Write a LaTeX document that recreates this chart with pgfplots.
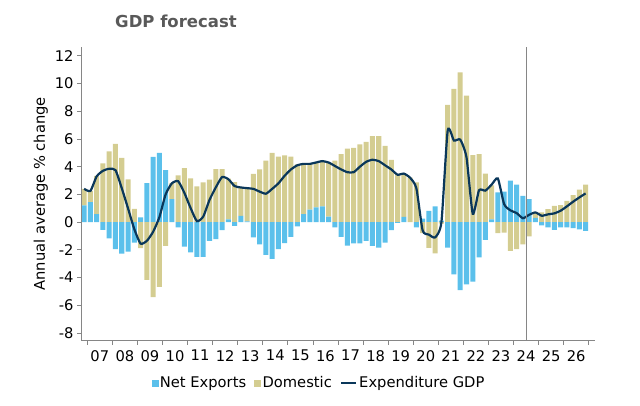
\documentclass[border=0pt]{standalone}
\usepackage{pgfplots}
\pgfplotsset{compat=1.18}
\usepackage{pgfplotstable}
\usepackage{fontspec}
\setmainfont{DejaVu Sans}
\definecolor{neblue}{RGB}{91,192,235}
\definecolor{domkhaki}{RGB}{212,205,145}
\definecolor{gdpline}{RGB}{10,55,90}
\definecolor{axgray}{RGB}{134,134,134}
\definecolor{titlegray}{RGB}{89,89,89}
\pgfplotstableread{
x nep dop nen don gdp
2006.875 1.2 1.2 0 0 2.4
2007.125 1.45 0.8 0 0 2.25
2007.375 0.58 2.75 0 0 3.3
2007.625 0 4.24 -0.55 0 3.7
2007.875 0 5.1 -1.18 0 3.85
2008.125 0 5.64 -1.95 0 3.75
2008.375 0 4.64 -2.27 0 2.45
2008.625 0 3.08 -2.12 0 1.0
2008.875 0 0.95 -1.47 0 -0.5
2009.125 0.34 0 0 -1.88 -1.55
2009.375 2.82 0 0 -4.17 -1.35
2009.625 4.7 0 0 -5.4 -0.7
2009.875 5.0 0 0 -4.67 0.35
2010.125 3.75 0 0 -1.72 2.0
2010.375 1.66 1.15 0 0 2.8
2010.625 0 3.37 -0.38 0 2.95
2010.875 0 3.9 -1.76 0 2.1
2011.125 0 3.16 -2.19 0 1.0
2011.375 0 2.58 -2.5 0 0.07
2011.625 0 2.87 -2.5 0 0.4
2011.875 0 3.06 -1.35 0 1.6
2012.125 0 3.83 -1.23 0 2.5
2012.375 0 3.83 -0.58 0 3.25
2012.625 0.2 2.93 0 0 3.1
2012.875 0 2.88 -0.27 0 2.6
2013.125 0.45 2.0 0 0 2.5
2013.375 0.05 2.4 0 0 2.45
2013.625 0 3.48 -1.1 0 2.4
2013.875 0 3.8 -1.6 0 2.2
2014.125 0 4.43 -2.36 0 2.05
2014.375 0 5.0 -2.65 0 2.4
2014.625 0 4.72 -1.95 0 2.8
2014.875 0 4.82 -1.52 0 3.35
2015.125 0 4.72 -1.06 0 3.8
2015.375 0 4.16 -0.3 0 4.1
2015.625 0.58 3.62 0 0 4.2
2015.875 0.9 3.3 0 0 4.2
2016.125 1.06 3.24 0 0 4.3
2016.375 1.13 3.3 0 0 4.4
2016.625 0.4 3.87 0 0 4.3
2016.875 0 4.43 -0.38 0 4.05
2017.125 0 4.9 -1.06 0 3.8
2017.375 0 5.3 -1.7 0 3.6
2017.625 0 5.35 -1.54 0 3.6
2017.875 0 5.6 -1.54 0 4.0
2018.125 0 5.78 -1.35 0 4.35
2018.375 0 6.2 -1.71 0 4.5
2018.625 0 6.2 -1.83 0 4.4
2018.875 0 5.5 -1.47 0 4.1
2019.125 0 4.48 -0.58 0 3.8
2019.375 0 3.47 -0.05 0 3.42
2019.625 0.38 3.1 0 0 3.5
2019.875 0 3.2 0 0 3.2
2020.125 0 2.87 -0.38 0 2.45
2020.375 0.25 0 0 -0.8 -0.6
2020.625 0.82 0 0 -1.85 -0.9
2020.875 1.13 0 0 -2.26 -1.1
2021.125 0.1 0 0 -0.1 0.0
2021.375 0 8.46 -1.83 0 6.6
2021.625 0 9.6 -3.76 0 5.88
2021.875 0 10.8 -4.9 0 5.95
2022.125 0 9.13 -4.48 0 4.67
2022.375 0 4.84 -4.29 0 0.6
2022.625 0 4.9 -2.55 0 2.3
2022.875 0 3.5 -1.28 0 2.27
2023.125 0.2 2.45 0 0 2.7
2023.375 2.14 0 0 -0.8 3.15
2023.625 2.2 0 0 -0.75 1.3
2023.875 3.0 0 0 -2.07 0.85
2024.125 2.7 0 0 -1.95 0.65
2024.375 1.9 0 0 -1.6 0.28
2024.625 1.66 0 0 -1.03 0.53
2024.875 0.3 0.4 0 0 0.7
2025.125 0 0.7 -0.24 0 0.46
2025.375 0 0.94 -0.38 0 0.56
2025.625 0 1.18 -0.55 0 0.63
2025.875 0 1.23 -0.38 0 0.82
2026.125 0 1.54 -0.38 0 1.13
2026.375 0 1.95 -0.43 0 1.47
2026.625 0 2.34 -0.53 0 1.78
2026.875 0 2.7 -0.63 0 2.07
}\data
\pgfplotsset{base/.style={width=514bp, height=294bp, scale only axis,
  xmin=2006.75, xmax=2027.25, ymin=-8.55, ymax=12.65,
  at={(81bp,65.3bp)}, anchor=south west}}
\begin{document}
\begin{tikzpicture}
\useasboundingbox (0,0) rectangle (640bp,406bp);
% positive stacks
\begin{axis}[base, hide axis, ybar stacked, bar width=0.2]
\addplot[fill=neblue, draw=none] table[x=x,y=nep]{\data};
\addplot[fill=domkhaki, draw=none] table[x=x,y=dop]{\data};
\end{axis}
% negative stacks
\begin{axis}[base, hide axis, ybar stacked, bar width=0.2]
\addplot[fill=neblue, draw=none] table[x=x,y=nen]{\data};
\addplot[fill=domkhaki, draw=none] table[x=x,y=don]{\data};
\end{axis}
% line, axes, legend
\begin{axis}[base,
  axis x line*=bottom, axis y line*=left,
  axis line style={axgray, line width=0.8bp, -},
  tick style={axgray, line width=0.8bp},
  tick align=outside, major tick length=4bp,
  ytick={-8,-6,...,12},
  xtick={2007,2008,...,2027},
  xticklabels={07,08,09,10,11,12,13,14,15,16,17,18,19,20,21,22,23,24,25,26,{}},
  x tick label as interval,
  /pgf/number format/assume math mode=true,
  ticklabel style={font=\fontsize{14.7bp}{17bp}\selectfont, text=black},
  xticklabel style={yshift=-2bp},
  ylabel={Annual average \% change},
  ylabel style={font=\fontsize{14.7bp}{17bp}\selectfont, at={(axis description cs:-0.078,0.5)}, anchor=center},
  legend columns=3,
  legend style={draw=none, fill=none, at={(axis description cs:0.463,-0.144)}, anchor=center,
    font=\fontsize{14.7bp}{17bp}\selectfont,
    /tikz/every even column/.append style={column sep=6bp},
    inner sep=0pt},
  legend cell align=left,
]
\addlegendimage{legend image code/.code={\fill[neblue] (0bp,-3bp) rectangle (6bp,3bp);}}
\addlegendentry{Net Exports}
\addlegendimage{legend image code/.code={\fill[domkhaki] (0bp,-3bp) rectangle (6bp,3bp);}}
\addlegendentry{Domestic}
\addlegendimage{legend image code/.code={\draw[gdpline, line width=2.4bp] (0bp,0bp) -- (15bp,0bp);}}
\addlegendentry{Expenditure GDP}
\addplot[gdpline, line width=2.2bp, smooth, tension=0.35, no markers, forget plot] table[x=x,y=gdp]{\data};
\addplot[axgray, line width=1bp, no markers, forget plot] coordinates {(2024.5,-8.55) (2024.5,12.65)};
\end{axis}
\node[font=\fontsize{16.5bp}{19bp}\selectfont\bfseries, text=titlegray] at (176bp,384.5bp) {GDP forecast};
\end{tikzpicture}
\end{document}
